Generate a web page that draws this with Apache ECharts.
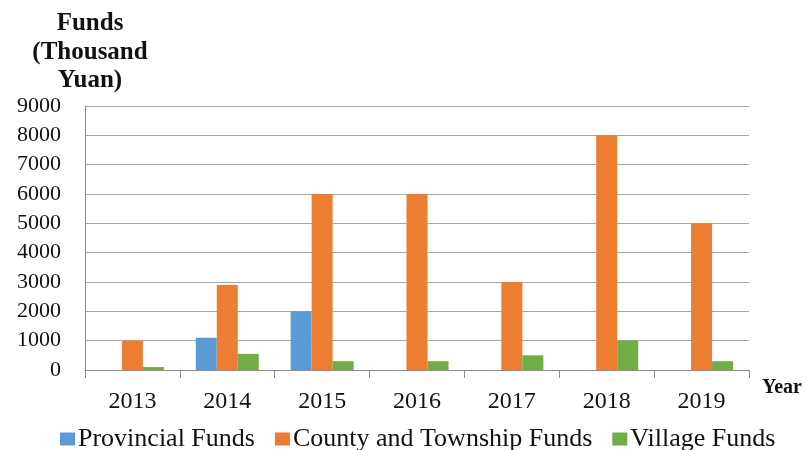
<!DOCTYPE html>
<html>
<head>
<meta charset="utf-8">
<script src="https://cdn.jsdelivr.net/npm/echarts@6/dist/echarts.min.js"></script>
<style>
html,body{margin:0;padding:0;background:#fff;}
#chart{width:808px;height:450px;}
</style>
</head>
<body>
<div id="chart"></div>
<script>
// Funding by year and source (thousand yuan)
const years = ['2013', '2014', '2015', '2016', '2017', '2018', '2019'];
const provincialFunds = [null, 1100, 2000, null, null, null, null];
const countyTownshipFunds = [1000, 2900, 6000, 6000, 3000, 8000, 5000];
const villageFunds = [100, 550, 300, 300, 500, 1000, 300];
const seriesNames = ['Provincial Funds', 'County and Township Funds', 'Village Funds'];
const yTicks = { min: 0, max: 9000, interval: 1000 };

const serif = '"Liberation Serif", "DejaVu Serif", serif';
const chart = echarts.init(document.getElementById('chart'));

const barBase = { type: 'bar', barWidth: 21, barGap: '0%' };

chart.setOption({
  animation: false,
  color: ['#5B9BD5', '#ED7D31', '#70AD47'],
  textStyle: { fontFamily: serif },
  grid: { left: 85, right: 59, top: 106, bottom: 80 },
  legend: {
    top: 421,
    left: 55,
    itemWidth: 15,
    itemHeight: 13,
    itemGap: 20,
    icon: 'rect',
    textStyle: { fontFamily: serif, fontSize: 26, color: '#111', padding: [0, 0, 0, -2] },
    data: seriesNames
  },
  xAxis: {
    type: 'category',
    data: years,
    name: 'Year',
    nameLocation: 'end',
    nameGap: 13,
    nameTextStyle: { fontFamily: serif, fontSize: 20, fontWeight: 'bold', color: '#111', verticalAlign: 'top', padding: [8, 0, 0, 0] },
    axisLine: { lineStyle: { color: '#8c8c8c', width: 1 } },
    axisTick: { show: true, length: 8, lineStyle: { color: '#8c8c8c' } },
    axisLabel: { fontFamily: serif, fontSize: 24, color: '#111', margin: 20 }
  },
  yAxis: {
    type: 'value',
    min: yTicks.min,
    max: yTicks.max,
    interval: yTicks.interval,
    name: 'Funds\n(Thousand\nYuan)',
    nameLocation: 'end',
    nameGap: 9,
    nameTextStyle: { fontFamily: serif, fontSize: 25, fontWeight: 'bold', color: '#111', lineHeight: 28.5, align: 'center', padding: [0, 0, 0, 10] },
    axisLine: { show: true, lineStyle: { color: '#8c8c8c', width: 1 } },
    axisTick: { show: false },
    splitLine: { lineStyle: { color: '#a6a6a6', width: 1 } },
    axisLabel: { fontFamily: serif, fontSize: 22, color: '#111', margin: 24, formatter: v => String(v) }
  },
  series: [
    Object.assign({ name: seriesNames[0], data: provincialFunds }, barBase),
    Object.assign({ name: seriesNames[1], data: countyTownshipFunds }, barBase),
    Object.assign({ name: seriesNames[2], data: villageFunds }, barBase)
  ]
});
</script>
</body>
</html>
